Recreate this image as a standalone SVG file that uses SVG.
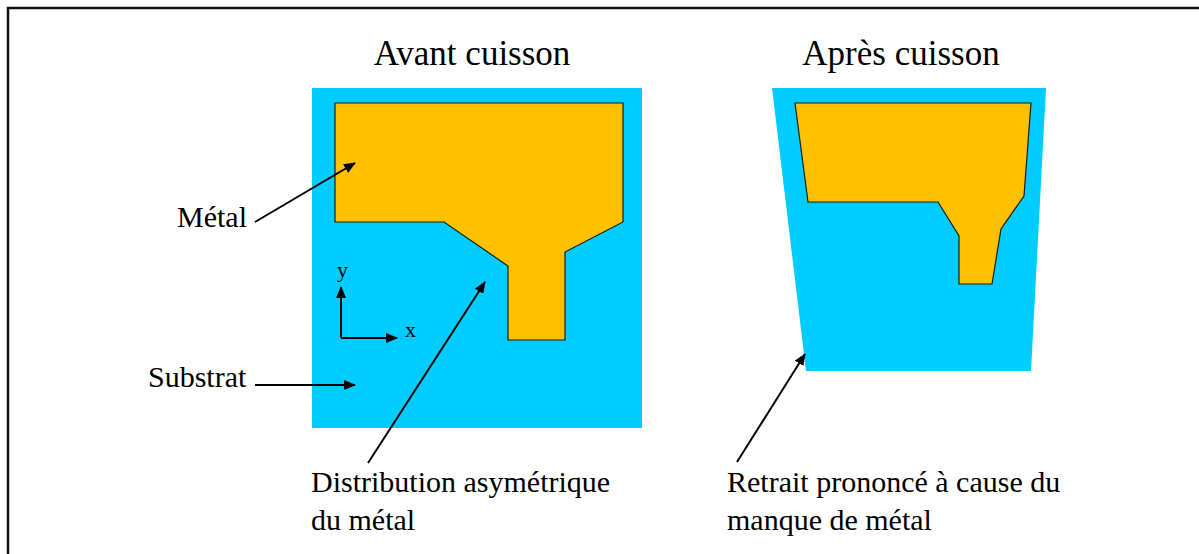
<svg xmlns="http://www.w3.org/2000/svg" width="1199" height="554" viewBox="0 0 1199 554">
<defs>
<style>
.sub{fill:#00CCFF;stroke:none}
.met{fill:#FFC000;stroke:#1a1a1a;stroke-width:1.2;stroke-linejoin:miter}
.lbl{font-family:"Liberation Serif","Times New Roman",serif;fill:#000;font-size:30px}
.ttl{font-family:"Liberation Serif","Times New Roman",serif;fill:#000;font-size:35px;text-anchor:middle}
.ar{stroke:#000;stroke-width:2;fill:none;marker-end:url(#ah)}
</style>
<marker id="ah" viewBox="0 0 12 10" refX="11" refY="5" markerWidth="12" markerHeight="10" markerUnits="userSpaceOnUse" orient="auto">
<path d="M0,0 L12,5 L0,10 Z" fill="#000"/>
</marker>
</defs>
<rect x="8" y="8" width="1200" height="560" fill="#fff" stroke="#111" stroke-width="2.5"/>
<g id="title-avant"><text class="ttl" x="472" y="65">Avant cuisson</text></g>
<g id="title-apres"><text class="ttl" x="901" y="65">Après cuisson</text></g>
<g id="substrat-avant"><rect class="sub" x="312" y="88" width="330" height="340"/></g>
<g id="metal-avant"><path class="met" d="M335,103 L623,103 L623,222 L565,252 L565,340 L508,340 L508,266 L444,222 L335,222 Z"/></g>
<g id="substrat-apres"><path class="sub" d="M772,88 L1046,88 L1031,371 L806,371 Z"/></g>
<g id="metal-apres"><path class="met" d="M795,103 L1031,103 L1024,196 L1001,229 L992,284 L959,284 L959,236 L938,202 L808,202 Z"/></g>
<g id="axes">
<line class="ar" x1="341" y1="338" x2="341" y2="287"/>
<line class="ar" x1="341" y1="338" x2="397" y2="338"/>
<text class="lbl" x="337" y="277" style="font-size:22px">y</text>
<text class="lbl" x="405" y="337" style="font-size:22px">x</text>
</g>
<g id="label-metal"><text class="lbl" x="177" y="227">Métal</text></g>
<g id="label-substrat"><text class="lbl" x="148" y="387">Substrat</text></g>
<g id="label-distribution"><text class="lbl" x="311" y="492">Distribution asymétrique</text><text class="lbl" x="311" y="530">du métal</text></g>
<g id="label-retrait"><text class="lbl" x="727" y="492">Retrait prononcé à cause du</text><text class="lbl" x="727" y="530">manque de métal</text></g>
<g id="connectors">
<line class="ar" x1="255" y1="222" x2="355" y2="163"/>
<line class="ar" x1="255" y1="385" x2="355" y2="385"/>
<line class="ar" x1="368" y1="463" x2="485" y2="282"/>
<line class="ar" x1="737" y1="462" x2="805" y2="354"/>
</g>
</svg>
